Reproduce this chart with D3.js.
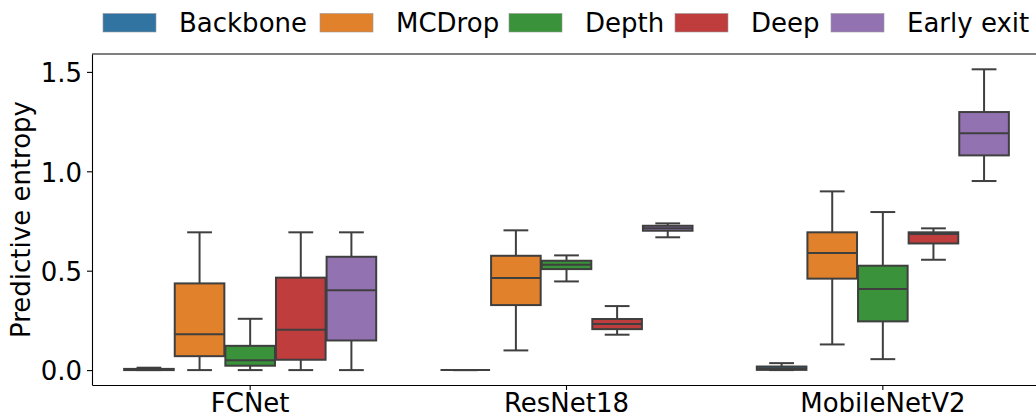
<!DOCTYPE html>
<html>
<head>
<meta charset="utf-8">
<script src="https://cdn.jsdelivr.net/npm/d3@7"></script>
<style>
  html, body { margin: 0; padding: 0; background: #fff; }
  svg { display: block; font-family: "DejaVu Sans", sans-serif; }
</style>
</head>
<body>
<svg id="chart" width="1036" height="417"></svg>
<script>
// Models on the x axis and uncertainty methods (hue)
const models = ["FCNet", "ResNet18", "MobileNetV2"];
const methods = ["Backbone", "MCDrop", "Depth", "Deep", "Early exit"];
const colors = ["#3274a1", "#e1812c", "#3a923a", "#c03d3e", "#9372b2"];

// Five-number summaries per model: [whisker low, Q1, median, Q3, whisker high]
const backbone = [[0.000, 0.000, 0.002, 0.006, 0.012], [0.000, 0.000, 0.000, 0.000, 0.000], [0.000, 0.001, 0.008, 0.018, 0.035]];
const mcdrop   = [[0.000, 0.070, 0.180, 0.436, 0.693], [0.099, 0.327, 0.463, 0.575, 0.703], [0.129, 0.460, 0.589, 0.693, 0.899]];
const depth    = [[0.000, 0.022, 0.049, 0.122, 0.258], [0.446, 0.508, 0.530, 0.550, 0.577], [0.055, 0.245, 0.408, 0.525, 0.795]];
const deep     = [[0.000, 0.052, 0.203, 0.465, 0.693], [0.178, 0.206, 0.232, 0.257, 0.322], [0.555, 0.637, 0.684, 0.693, 0.713]];
const earlyExit= [[0.000, 0.149, 0.401, 0.570, 0.693], [0.668, 0.701, 0.713, 0.726, 0.738], [0.951, 1.080, 1.191, 1.298, 1.513]];

const yTicks = [0, 0.5, 1.0, 1.5];
const seriesData = [backbone, mcdrop, depth, deep, earlyExit];

const svg = d3.select("#chart");
const plot = { left: 92, right: 1041, top: 54, bottom: 385 };
const lineColor = "#3f3f3f";
const fontSize = 26;

const x = d3.scaleBand().domain(models).range([plot.left, plot.right]).padding(0);
const hue = d3.scaleBand().domain(methods).range([-0.4, 0.4]).padding(0);
const y = d3.scaleLinear().domain([-0.075, 1.59]).range([plot.bottom, plot.top]);

const bw = x.bandwidth();
const boxW = hue.bandwidth() * bw * 0.98;
const capW = boxW / 2;

// Boxes with whiskers, caps and median line
const g = svg.append("g");
methods.forEach((m, mi) => {
  models.forEach((model, ci) => {
    const [lo, q1, med, q3, hi] = seriesData[mi][ci];
    const cx = x(model) + bw / 2 + (hue(m) + hue.bandwidth() / 2) * bw;
    const bg = g.append("g");
    bg.append("line").attr("x1", cx).attr("x2", cx).attr("y1", y(q3)).attr("y2", y(hi))
      .attr("stroke", lineColor).attr("stroke-width", 2);
    bg.append("line").attr("x1", cx).attr("x2", cx).attr("y1", y(q1)).attr("y2", y(lo))
      .attr("stroke", lineColor).attr("stroke-width", 2);
    [lo, hi].forEach(v => {
      bg.append("line").attr("x1", cx - capW / 2).attr("x2", cx + capW / 2)
        .attr("y1", y(v)).attr("y2", y(v))
        .attr("stroke", lineColor).attr("stroke-width", 2);
    });
    bg.append("rect").attr("x", cx - boxW / 2).attr("width", boxW)
      .attr("y", y(q3)).attr("height", Math.max(0, y(q1) - y(q3)))
      .attr("fill", colors[mi]).attr("stroke", lineColor).attr("stroke-width", 2);
    bg.append("line").attr("x1", cx - boxW / 2).attr("x2", cx + boxW / 2)
      .attr("y1", y(med)).attr("y2", y(med))
      .attr("stroke", lineColor).attr("stroke-width", 2);
  });
});

// Axes
const yAxis = svg.append("g").attr("transform", `translate(${plot.left},0)`)
  .call(d3.axisLeft(y).tickValues(yTicks).tickFormat(d3.format(".1f")).tickSize(5).tickPadding(5).tickSizeOuter(0));
const xAxis = svg.append("g").attr("transform", `translate(0,${plot.bottom})`)
  .call(d3.axisBottom(x).tickSize(5).tickPadding(5).tickSizeOuter(0));
[yAxis, xAxis].forEach(a => {
  a.selectAll("text").attr("font-family", "DejaVu Sans").attr("font-size", fontSize).attr("fill", "#000");
  a.selectAll("line").attr("stroke", "#000").attr("stroke-width", 1.1);
  a.select(".domain").attr("stroke", "#000").attr("stroke-width", 1.1);
});
yAxis.selectAll("text").attr("dy", "0.38em");
xAxis.selectAll("text").attr("dy", "0.66em");

// top and right spines
svg.append("line").attr("x1", plot.left).attr("x2", plot.right).attr("y1", plot.top).attr("y2", plot.top)
  .attr("stroke", "#000").attr("stroke-width", 1.1);
svg.append("line").attr("x1", plot.right).attr("x2", plot.right).attr("y1", plot.top).attr("y2", plot.bottom)
  .attr("stroke", "#000").attr("stroke-width", 1.1);

// Y axis title
svg.append("text").attr("transform", `translate(29.5,${(plot.top + plot.bottom) / 2}) rotate(-90)`)
  .attr("text-anchor", "middle").attr("font-size", fontSize).attr("fill", "#000")
  .text("Predictive entropy");

// Legend along the top
const legendX = [103, 320, 509, 675, 831];
const legend = svg.append("g");
methods.forEach((m, i) => {
  legend.append("rect").attr("x", legendX[i]).attr("y", 13.5).attr("width", 53).attr("height", 18.5)
    .attr("fill", colors[i]).attr("stroke", "#999").attr("stroke-width", 0.6);
  legend.append("text").attr("x", legendX[i] + 76).attr("y", 31.7)
    .attr("font-size", fontSize).attr("fill", "#000").text(m);
});
</script>
</body>
</html>
